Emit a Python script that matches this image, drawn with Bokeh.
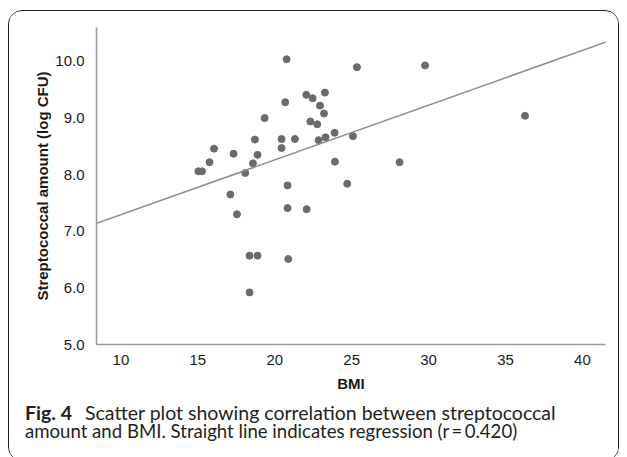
import numpy as np
from bokeh.plotting import figure
from bokeh.layouts import column
from bokeh.models import Range1d, FixedTicker, NumeralTickFormatter, Slope
from bokeh.core.properties import value
from bokeh.embed import file_html
from bokeh.resources import INLINE

# ---- data ----
bmi = [15.03, 15.27, 15.76, 16.05, 17.32, 18.08, 18.58, 18.71, 18.88,
       20.77, 25.34, 29.77, 22.05, 22.46, 23.26, 20.68, 22.94, 23.20, 19.34,
       22.31, 22.76, 23.89, 25.08, 23.30, 22.85, 21.31, 20.44, 20.44, 23.91,
       28.11, 20.83, 24.71,
       36.27,
       17.11, 17.54, 18.36, 18.88, 18.36,
       20.83, 22.07, 20.88]
strep = [8.06, 8.06, 8.22, 8.46, 8.37, 8.03, 8.20, 8.62, 8.35,
         10.04, 9.90, 9.93, 9.41, 9.35, 9.45, 9.28, 9.22, 9.08, 9.00,
         8.94, 8.89, 8.74, 8.68, 8.66, 8.61, 8.63, 8.63, 8.47, 8.23,
         8.22, 7.81, 7.84,
         9.04,
         7.65, 7.30, 6.57, 6.57, 5.92,
         7.41, 7.39, 6.51]

reg_intercept = 6.327
reg_slope = 0.0967

x_ticks = [10, 15, 20, 25, 30, 35, 40]
y_ticks = [5, 6, 7, 8, 9, 10]

x_title = "BMI"
y_title = "Streptococcal amount (log CFU)"
cap_bold = "Fig. 4"
cap_line1 = "Scatter plot showing correlation between streptococcal"
cap_line2 = "amount and BMI. Straight line indicates regression (r\u2009=\u20090.420)"

W = 609
H1, H2 = 383, 66

p = figure(width=W, height=H1, output_backend="svg", toolbar_location=None,
           x_range=Range1d(8.41, 41.5), y_range=Range1d(5.0, 10.6),
           min_border_left=87, min_border_right=13, min_border_top=16,
           min_border_bottom=50)
p.outline_line_color = None
p.grid.visible = False

p.scatter(bmi, strep, size=7, color="#6b6b6b", line_color="#6b6b6b")
p.add_layout(Slope(gradient=reg_slope, y_intercept=reg_intercept,
                   line_color="#8c8c8c", line_width=1.5))

for ax in (p.xaxis[0], p.yaxis[0]):
    ax.axis_line_color = "#9b9b9b"
    ax.axis_line_width = 1.6
    ax.major_tick_line_color = None
    ax.minor_tick_line_color = None
    ax.major_label_text_font = "Liberation Sans"
    ax.major_label_text_font_size = "15px"
    ax.major_label_text_color = "#1a1a1a"
    ax.axis_label_text_font = "Liberation Sans"
    ax.axis_label_text_font_size = "15px"
    ax.axis_label_text_font_style = "bold"
    ax.axis_label_text_color = "#1a1a1a"

p.xaxis[0].ticker = FixedTicker(ticks=x_ticks)
p.yaxis[0].ticker = FixedTicker(ticks=y_ticks)
p.yaxis[0].formatter = NumeralTickFormatter(format="0.0")
p.xaxis[0].axis_label = x_title
p.yaxis[0].axis_label = y_title
p.xaxis[0].major_label_standoff = 4
p.yaxis[0].major_label_standoff = 6
p.xaxis[0].axis_label_standoff = 7
p.yaxis[0].axis_label_standoff = 1

# caption panel
c = figure(width=W, height=H2, output_backend="svg", toolbar_location=None,
           x_range=Range1d(0, W), y_range=Range1d(0, H2),
           x_axis_type=None, y_axis_type=None,
           min_border=0, min_border_left=0, min_border_right=0,
           min_border_top=0, min_border_bottom=0)
c.outline_line_color = None
c.grid.visible = False
for fig in (p, c):
    if hasattr(fig, "frame_align"):
        fig.frame_align = False

cap_font = value("Lato")
c.text(x=[15.5], y=[H2 - 17.5], text=[cap_bold], text_font=cap_font,
       text_font_size=value("19.5px"), text_font_style="bold",
       text_color="#231f20", text_baseline="middle")
c.text(x=[75.5], y=[H2 - 17.5], text=[cap_line1], text_font=cap_font,
       text_font_size=value("19.5px"), text_color="#231f20",
       text_baseline="middle")
c.text(x=[15.5], y=[H2 - 36.5], text=[cap_line2], text_font=cap_font,
       text_font_size=value("18.6px"), text_color="#231f20",
       text_baseline="middle")

layout = column(p, c, spacing=0)
layout.styles = {"border": "1.5px solid #222222", "border-radius": "14px",
                 "margin-left": "8px", "margin-top": "10px",
                 "overflow": "hidden", "background": "white"}

open("out.html", "w").write(file_html(layout, INLINE))
